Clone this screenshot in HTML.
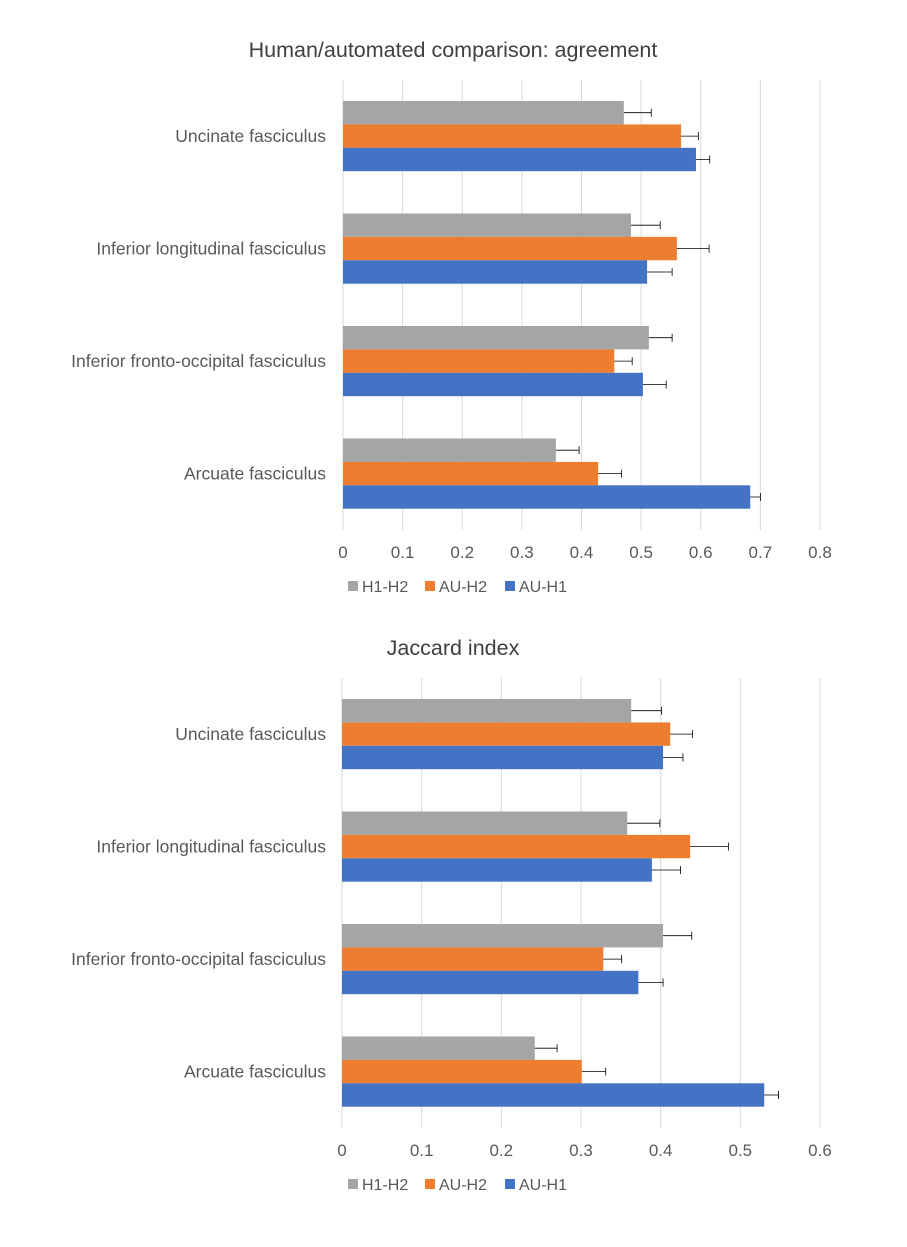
<!DOCTYPE html>
<html><head><meta charset="utf-8"><style>
body{margin:0;background:#fff;}
svg{display:block;font-family:"Liberation Sans",sans-serif;}
</style></head><body>
<svg id="s" width="907" height="1247" xmlns="http://www.w3.org/2000/svg"></svg>
<script>
const categories=["Uncinate fasciculus","Inferior longitudinal fasciculus","Inferior fronto-occipital fasciculus","Arcuate fasciculus"];
const seriesNames=["H1-H2","AU-H2","AU-H1"];
const colors=["#a5a5a5","#ed7d31","#4472c4"];
const agreeH1H2=[0.471,0.483,0.513,0.357];
const agreeAUH2=[0.567,0.560,0.455,0.428];
const agreeAUH1=[0.592,0.510,0.503,0.683];
const agreeErrH1H2=[0.046,0.049,0.039,0.039];
const agreeErrAUH2=[0.029,0.054,0.030,0.039];
const agreeErrAUH1=[0.023,0.042,0.039,0.017];
const agreeTicks=[0,0.1,0.2,0.3,0.4,0.5,0.6,0.7,0.8];
const jacH1H2=[0.363,0.358,0.403,0.242];
const jacAUH2=[0.412,0.437,0.328,0.301];
const jacAUH1=[0.403,0.389,0.372,0.530];
const jacErrH1H2=[0.038,0.041,0.036,0.028];
const jacErrAUH2=[0.028,0.048,0.023,0.030];
const jacErrAUH1=[0.025,0.036,0.031,0.018];
const jacTicks=[0,0.1,0.2,0.3,0.4,0.5,0.6];
const NS="http://www.w3.org/2000/svg";
const svg=document.getElementById('s');
function mk(t,a,p){const e=document.createElementNS(NS,t);for(const k in a)e.setAttribute(k,a[k]);(p||svg).appendChild(e);return e;}
function chart(name,title,top,x0,x1,ticks,vals,errs){
  const g=mk('g',{});
  
  
  const max=ticks[ticks.length-1];
  const xs=v=>x0+(x1-x0)*v/max;
  const band=112.5, bh=23.4;
  const t=mk('text',{x:453,y:top-23,'text-anchor':'middle','font-size':21.5,fill:'#404040'},g);t.textContent=title;
  
  
  ticks.forEach(v=>{
    const l=mk('line',{x1:xs(v),x2:xs(v),y1:top,y2:top+450,stroke:'#d9d9d9','stroke-width':1},g);
    
    
    const tx=mk('text',{x:xs(v),y:top+478,'text-anchor':'middle','font-size':17,fill:'#595959'},g);tx.textContent=String(v);
    
    
  });
  categories.forEach((c,i)=>{
    const gy=top+i*band+21;
    const ct=mk('text',{x:326,y:gy+bh*1.5+6,'text-anchor':'end','font-size':17.5,fill:'#595959'},g);ct.textContent=c;
    
    
    for(let s=0;s<3;s++){
      const y=gy+s*bh, v=vals[s][i], e=errs[s][i];
      const r=mk('rect',{x:x0,y:y,width:xs(v)-x0,height:bh,fill:colors[s]},g);
      
      
      const cy=y+bh/2, xe=xs(v+e);
      const eb=mk('path',{d:`M${xs(v)} ${cy}H${xe}M${xe} ${cy-4}V${cy+4}`,stroke:'#000','stroke-width':0.8,fill:'none'},g);
      
      
    }
  });
  const lx=[348,425,505];
  seriesNames.forEach((n,s)=>{
    const r=mk('rect',{x:lx[s],y:top+501,width:10,height:10,fill:colors[s]},g);
    
    
    const tx=mk('text',{x:lx[s]+14,y:top+512,'font-size':16,fill:'#595959'},g);tx.textContent=n;
    
    
  });
}
chart('agreement-chart','Human/automated comparison: agreement',80,343,820,agreeTicks,[agreeH1H2,agreeAUH2,agreeAUH1],[agreeErrH1H2,agreeErrAUH2,agreeErrAUH1]);
chart('jaccard-chart','Jaccard index',678,342,820,jacTicks,[jacH1H2,jacAUH2,jacAUH1],[jacErrH1H2,jacErrAUH2,jacErrAUH1]);
</script>
</body></html>
